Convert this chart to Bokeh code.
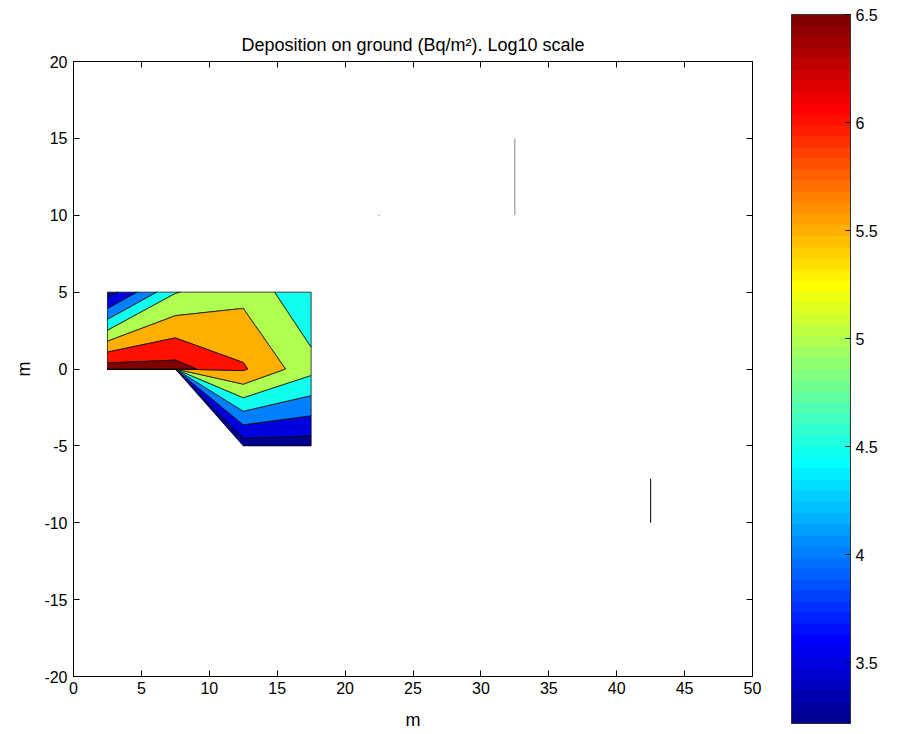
import numpy as np
from bokeh.plotting import figure
from bokeh.models import (LinearAxis, FixedTicker, Range1d, ColorBar, LinearColorMapper,
                          PrintfTickFormatter)
from bokeh.embed import file_html
from bokeh.resources import INLINE

# ---------------- data ----------------
grid_x = [2.5, 7.5, 12.5, 17.5]          # m
grid_y = [-5.0, 0.0, 5.0]                 # m
log_dep_y_m5 = [np.nan, np.nan, 3.22, 3.25]   # log10 Bq/m2 at y = -5
log_dep_y_0 = [6.78, 6.70, 6.06, 5.16]        # at y = 0
log_dep_y_p5 = [3.24, 4.97, 5.35, 4.59]       # at y = 5
contour_levels = [3.5, 4.0, 4.5, 5.0, 5.5, 6.0, 6.5]

x_ticks = [0, 5, 10, 15, 20, 25, 30, 35, 40, 45, 50]
y_ticks = [-20, -15, -10, -5, 0, 5, 10, 15, 20]
cbar_ticks = [3.5, 4.0, 4.5, 5.0, 5.5, 6.0, 6.5]

# stray degenerate contour pieces visible elsewhere in the field
stray_x0 = [32.5, 42.5]
stray_y0 = [10.0, -10.0]
stray_x1 = [32.5, 42.5]
stray_y1 = [15.0, -7.14]
stray_dot_x = [22.5]
stray_dot_y = [10.0]

TITLE = "Deposition on ground (Bq/m\u00b2). Log10 scale"
FONT = "Liberation Sans"


# ---------------- helpers ----------------
def jet(m=64):
    n = int(np.ceil(m / 4))
    u = np.concatenate([np.arange(1, n + 1) / n, np.ones(n - 1), np.arange(n, 0, -1) / n])
    g = int(np.ceil(n / 2)) - (1 if m % 4 == 1 else 0) + np.arange(1, len(u) + 1)
    r = g + n
    b = g - n
    J = np.zeros((m, 3))
    for col, idx in ((0, r), (1, g), (2, b)):
        mask = (idx >= 1) & (idx <= m)
        J[idx[mask] - 1, col] = u[mask]
    return J


def to_hex(c):
    return "#%02x%02x%02x" % tuple(int(round(v * 255)) for v in c)


JET_HEX = [to_hex(c) for c in jet(64)]

z = np.array([log_dep_y_m5, log_dep_y_0, log_dep_y_p5], dtype=float)
zmin = float(np.nanmin(z))
zmax = float(np.nanmax(z))
cmin, cmax = zmin, max(contour_levels)


def color_for(v):
    k = int((v - cmin) / (cmax - cmin) * 64) + 1
    k = min(max(k, 1), 64)
    return JET_HEX[k - 1]


# classic contourf treatment of missing values: push them far below the minimum
z_fill = np.where(np.isnan(z), zmin - 1e4 * (zmax - zmin), z)
fill_levels = [zmin - 1e-6] + contour_levels + [zmax + 1e-6]
band_colors = [color_for(v) for v in [zmin] + contour_levels]

# ---------------- figure ----------------
W, H = 899, 734
p = figure(width=W, height=H, x_range=Range1d(0, 50), y_range=Range1d(-20, 20),
           output_backend="svg", toolbar_location=None, title=TITLE,
           min_border_left=73, min_border_right=147, min_border_top=61, min_border_bottom=58)
p.title.align = "center"
p.title.text_font = FONT
p.title.text_font_size = "18px"
p.title.text_font_style = "normal"
p.title.text_color = "black"
p.title.standoff = 13
p.xgrid.visible = False
p.ygrid.visible = False
p.outline_line_color = "black"
p.outline_line_width = 1
p.background_fill_color = "white"
p.border_fill_color = "white"

cr = p.contour(grid_x, grid_y, z_fill, fill_levels, fill_color=band_colors, line_color=None)
cr.fill_renderer.glyph.line_color = "black"
cr.fill_renderer.glyph.line_width = 0.8
cr.fill_renderer.glyph.line_alpha = 0.9

p.segment(x0=stray_x0, y0=stray_y0, x1=stray_x1, y1=stray_y1,
          line_color=["#8a8a8a", "#000000"], line_width=1)
p.scatter(x=stray_dot_x, y=stray_dot_y, marker="square", size=1.5,
          fill_color="#bbbbbb", line_color=None)

for ax in (p.xaxis[0], p.yaxis[0]):
    ax.major_tick_in = 6
    ax.major_tick_out = 0
    ax.minor_tick_in = 0
    ax.minor_tick_out = 0
    ax.axis_line_color = "black"
    ax.major_tick_line_color = "black"
    ax.major_label_text_font = FONT
    ax.major_label_text_font_size = "16px"
    ax.major_label_text_color = "black"
    ax.axis_label_text_font = FONT
    ax.axis_label_text_font_size = "18px"
    ax.axis_label_text_font_style = "normal"
    ax.axis_label_text_color = "black"
    ax.axis_label = "m"
    ax.formatter = PrintfTickFormatter(format="%d")
p.xaxis[0].ticker = FixedTicker(ticks=x_ticks)
p.yaxis[0].ticker = FixedTicker(ticks=y_ticks)
p.xaxis[0].major_label_standoff = 5
p.yaxis[0].major_label_standoff = 6
p.xaxis[0].axis_label_standoff = 13
p.yaxis[0].axis_label_standoff = 7

for loc, ticks in (("above", x_ticks), ("right", y_ticks)):
    ax = LinearAxis(ticker=FixedTicker(ticks=ticks), major_tick_in=6, major_tick_out=0,
                    minor_tick_in=0, minor_tick_out=0,
                    major_label_overrides={t: "" for t in ticks},
                    major_label_standoff=0, axis_line_color="black")
    p.add_layout(ax, loc)

# ---------------- colour bar ----------------
mapper = LinearColorMapper(palette=JET_HEX, low=cmin, high=cmax)
cbar = ColorBar(color_mapper=mapper, ticker=FixedTicker(ticks=cbar_ticks),
                formatter=PrintfTickFormatter(format="%g"),
                orientation="vertical", width=59, height=709, location=(718, -47),
                padding=0, margin=0, label_standoff=5,
                major_tick_in=5, major_tick_out=0, major_tick_line_color="black",
                minor_tick_line_color=None,
                bar_line_color="#333333", bar_line_width=1,
                major_label_text_font=FONT, major_label_text_font_size="16px",
                major_label_text_color="black",
                background_fill_color=None, border_line_color=None)
p.add_layout(cbar, "center")

open("out.html", "w").write(file_html(p, INLINE))
